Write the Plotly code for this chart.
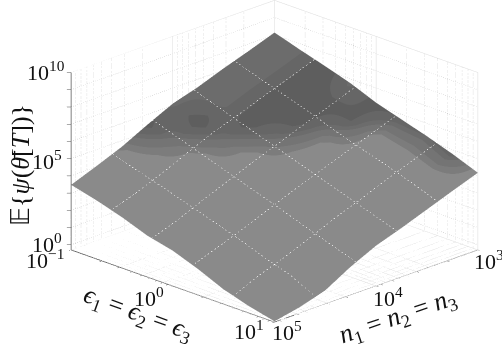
import numpy as np
import plotly.graph_objects as go

# log10 of axis values
log_eps = [-1, -0.75, -0.5, -0.25, 0, 0.25, 0.5, 0.75, 1]
log_n = [3, 3.25, 3.5, 3.75, 4, 4.25, 4.5, 4.75, 5]
# log10 E{psi}: rows follow log_n, columns follow log_eps
log_psi = [
    [8.13, 7.66, 7.22, 6.75, 6.15, 5.70, 5.25, 4.75, 4.18],
    [7.60, 7.12, 6.65, 6.18, 5.60, 5.15, 4.70, 4.20, 3.65],
    [7.10, 6.60, 6.12, 5.63, 5.10, 4.60, 4.15, 3.65, 3.10],
    [6.55, 6.05, 5.55, 5.05, 4.55, 4.05, 3.55, 3.05, 2.55],
    [6.10, 5.55, 5.03, 4.50, 4.00, 3.50, 3.00, 2.50, 2.05],
    [5.40, 4.90, 4.40, 3.90, 3.40, 2.90, 2.35, 1.85, 1.35],
    [4.65, 4.20, 3.75, 3.30, 2.80, 2.30, 1.75, 1.25, 0.50],
    [4.05, 3.60, 3.15, 2.65, 2.20, 1.75, 1.20, 0.75, 0.05],
    [3.48, 3.10, 2.65, 2.10, 1.75, 1.20, 0.55, 0.10, -0.25],
]
# facet grey level at each node
grey = [
    [114, 114, 97, 114, 100, 106, 112, 108, 138],
    [114, 114, 97, 100, 104, 138, 138, 138, 138],
    [114, 114, 97, 98, 130, 138, 138, 138, 138],
    [114, 114, 98, 118, 138, 138, 138, 138, 138],
    [114, 98, 118, 138, 138, 138, 138, 138, 138],
    [100, 122, 138, 138, 138, 138, 138, 138, 138],
    [130, 138, 138, 138, 138, 138, 138, 138, 138],
    [138, 138, 138, 138, 138, 138, 138, 138, 138],
    [138, 138, 138, 138, 138, 138, 138, 138, 138],
]
eps_major = [-1, 0, 1]
n_major = [3, 4, 5]
z_ticks = [0, 1, 2, 3, 4, 5, 6, 7, 8, 9, 10]
minor_mult = [2, 3, 4, 5, 6, 7, 8, 9]
mesh_n = [3.4, 3.8, 4.2, 4.6]
mesh_eps = [-0.6, -0.2, 0.2, 0.6]
z_min, z_max = -0.3, 10
FONT = "Liberation Serif"
GRID = "#dcdcdc"
DOT = "#c6c6c6"
AXIS = "#555555"
MESH = "rgba(255,255,255,0.04)"
PAD = 0.03


def decades(major):
    out = []
    for m in major[:-1]:
        out += [m + float(np.log10(k)) for k in minor_mult]
    return out


eps_minor = decades(eps_major)
n_minor = decades(n_major)
nlo, nhi = n_major[0], n_major[-1]
elo, ehi = eps_major[0], eps_major[-1]
psi = np.array(log_psi)

traces = [go.Surface(
    x=log_n, y=log_eps, z=psi.T,
    surfacecolor=np.array(grey).T, cmin=96, cmax=138,
    colorscale=[[0, "#5e5e5e"], [0.19, "#5e5e5e"], [0.19, "#666666"], [0.38, "#666666"],
                [0.38, "#6c6c6c"], [0.5, "#6c6c6c"], [0.5, "#747474"], [0.7, "#747474"],
                [0.7, "#7c7c7c"], [0.85, "#7c7c7c"], [0.85, "#8a8a8a"], [1, "#8a8a8a"]],
    showscale=False, hoverinfo="skip",
    lighting=dict(ambient=1, diffuse=0, specular=0, fresnel=0, roughness=1),
)]


def seg(xs, ys, zs, color, width=1, dash="solid"):
    traces.append(go.Scatter3d(x=xs, y=ys, z=zs, mode="lines", hoverinfo="skip",
                               showlegend=False,
                               line=dict(color=color, width=width, dash=dash)))


# faint mesh lying on the surface
for v in mesh_n:
    h = [float(np.interp(v, log_n, psi[:, j])) + 0.04 for j in range(len(log_eps))]
    seg([v] * len(log_eps), log_eps, h, MESH)
for v in mesh_eps:
    h = [float(np.interp(v, log_eps, psi[i, :])) + 0.04 for i in range(len(log_n))]
    seg(log_n, [v] * len(log_n), h, MESH)

# walls and floor: minor dotted, major solid
for v in eps_minor:
    seg([nlo, nlo], [v, v], [z_min, z_max], DOT, 1, "dot")
    seg([nlo, nhi], [v, v], [z_min, z_min], DOT, 1, "dot")
for v in n_minor:
    seg([v, v], [elo, elo], [z_min, z_max], DOT, 1, "dot")
    seg([v, v], [elo, ehi], [z_min, z_min], DOT, 1, "dot")
for v in z_ticks:
    if v == 10:
        seg([nhi, nlo, nlo], [elo, elo, ehi], [v, v, v], GRID, 1)
    else:
        seg([nhi, nlo, nlo], [elo, elo, ehi], [v, v, v], DOT, 1, "dot")
for v in eps_major:
    seg([nhi, nlo, nlo], [v, v, v], [z_min, z_min, z_max], GRID, 1)
for v in n_major:
    seg([v, v, v], [ehi, elo, elo], [z_min, z_min, z_max], GRID, 1)
seg([nhi, nlo, nlo], [elo, elo, ehi], [z_min, z_min, z_min], GRID, 1)

# front axes and their ticks
seg([nhi, nhi], [elo, ehi], [z_min, z_min], AXIS, 1.5)
seg([nlo, nhi], [ehi, ehi], [z_min, z_min], AXIS, 1.5)
seg([nhi, nhi], [elo, elo], [z_min, z_max], AXIS, 1.5)
for v in eps_major + eps_minor:
    seg([nhi, nhi + PAD * 0.7], [v, v], [z_min, z_min], AXIS, 1)
for v in n_major + n_minor:
    seg([v, v], [ehi, ehi + PAD * 0.7], [z_min, z_min], AXIS, 1)
for v in z_ticks:
    seg([nhi, nhi + PAD * 0.7], [elo, elo - PAD * 0.7], [v, v], AXIS, 1)

fig = go.Figure(traces)


def tick(x, y, z, text, dx, dy):
    return dict(x=x, y=y, z=z, text=text, showarrow=False, xshift=dx, yshift=dy,
                font=dict(family=FONT, size=22, color="#111111"))


hidden = dict(visible=False, showgrid=False, showbackground=False, zeroline=False,
              showspikes=False)
scene_ann = [
    tick(nhi, elo, 10, "10<sup>10</sup>", -25, 2),
    tick(nhi, elo, 5, "10<sup>5</sup>", -24, -1),
    tick(nhi, elo, 0, "10<sup>0</sup>", -24, 2),
    tick(nhi, elo, z_min, "10<sup>\u22121</sup>", -26, -9),
    tick(nhi, 0, z_min, "10<sup>0</sup>", -24, -11),
    tick(nhi, ehi, z_min, "10<sup>1</sup>", -25, -8),
    tick(nlo, ehi, z_min, "10<sup>3</sup>", 11, -10),
    tick(4, ehi, z_min, "10<sup>4</sup>", 12, -11),
    tick(nhi, ehi, z_min, "10<sup>5</sup>", 13, -9),
]
K = 1.672


def label(x, y, text, angle):
    return dict(xref="paper", yref="paper", x=x / 502, y=1 - y / 344, text=text, textangle=angle,
                xanchor="center", yanchor="middle", showarrow=False,
                font=dict(family=FONT, size=26, color="#111111"))


fig.update_layout(
    width=502, height=344, autosize=False,
    margin=dict(l=0, r=0, t=0, b=0), paper_bgcolor="white", showlegend=False,
    scene=dict(
        domain=dict(x=[0.0936, 1], y=[0, 1]),
        xaxis=dict(range=[nlo - PAD, nhi + PAD], **hidden),
        yaxis=dict(range=[elo - PAD, ehi + PAD], **hidden),
        zaxis=dict(range=[z_min, z_max], **hidden),
        aspectmode="manual",
        aspectratio=dict(x=K * (1 + PAD), y=K * (1 + PAD), z=0.66 * K),
        camera=dict(projection=dict(type="orthographic"),
                    eye=dict(x=4.0, y=4.0, z=2.148 - 0.067),
                    center=dict(x=0, y=0, z=-0.067), up=dict(x=0, y=0, z=1)),
        annotations=scene_ann,
    ),
    annotations=[
        label(20, 165, "\U0001D53C{<i>\u03C8</i>(<i>\u03B8\u0304</i>[<i>T</i>])}", -90),
        label(138, 314, "<i>\u03F5</i><sub>1</sub> = <i>\u03F5</i><sub>2</sub> = <i>\u03F5</i><sub>3</sub>", 20),
        label(398, 317, "<i>n</i><sub>1</sub> = <i>n</i><sub>2</sub> = <i>n</i><sub>3</sub>", -19),
    ],
)
fig.write_html("out.html", config=dict(displayModeBar=False),
               post_script="document.body.style.margin='0';document.body.style.overflow='hidden';")
